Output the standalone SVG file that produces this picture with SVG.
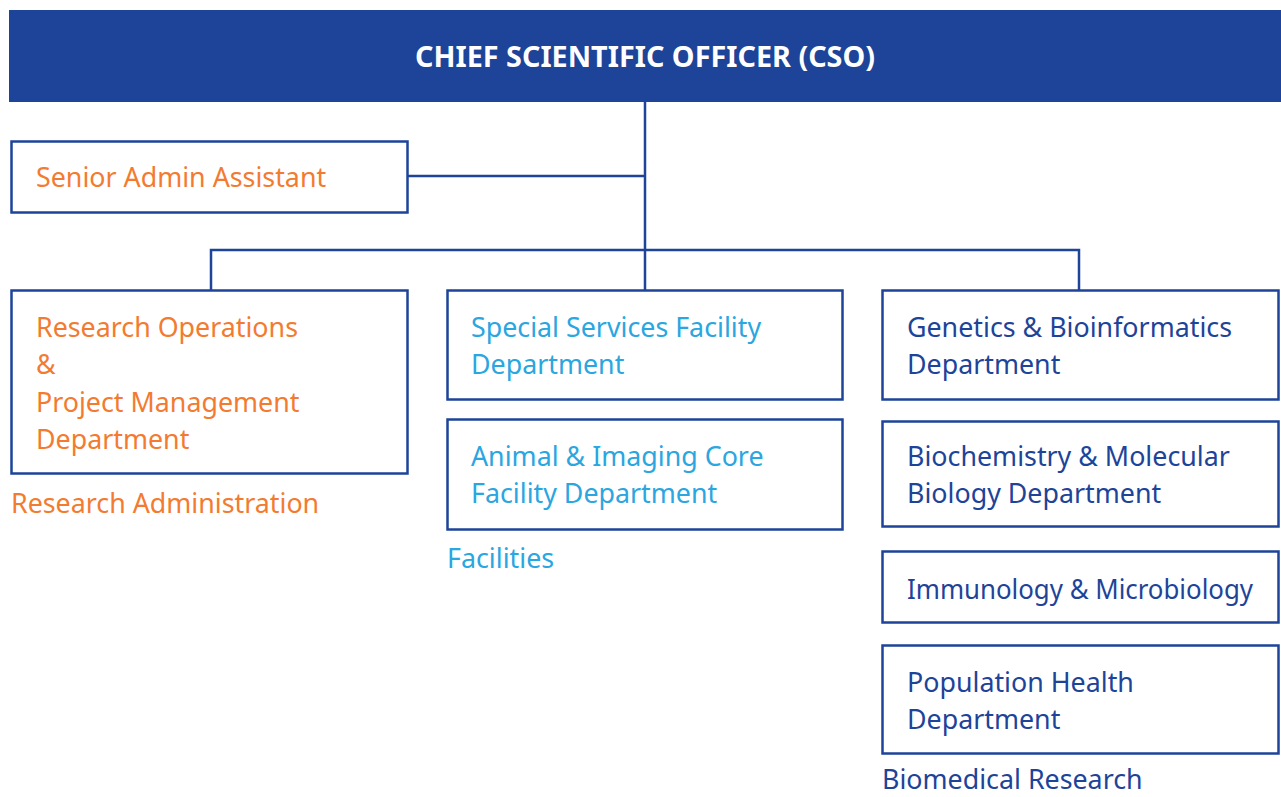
<svg xmlns="http://www.w3.org/2000/svg" width="1281" height="797" viewBox="0 0 1281 797">
<style>
.box{fill:#fff;stroke:#1d4499;stroke-width:2.5}
.ln{fill:none;stroke:#1d4499;stroke-width:2.5}
text{font-family:"Noto Sans","Open Sans",sans-serif;font-size:26.8px}
.or{fill:#f37b2f}
.lb{fill:#2aa6e0}
.db{fill:#1d4499}
.hd{fill:#fff;font-weight:bold;font-size:28px}
</style>
<rect width="1281" height="797" fill="#fff"/>
<g id="connectors">
<path class="ln" d="M645 102V290M408 176H645M211 290V250H1079V290"/>
</g>
<g id="cso">
<rect x="9" y="10" width="1272" height="92" fill="#1d4499"/>
<text class="hd" x="645" y="67" text-anchor="middle" textLength="460" lengthAdjust="spacingAndGlyphs">CHIEF SCIENTIFIC OFFICER (CSO)</text>
</g>
<g id="senior-admin">
<rect class="box" x="11.5" y="141.5" width="396" height="71"/>
<text class="or" x="36" y="187">Senior Admin Assistant</text>
</g>
<g id="research-ops">
<rect class="box" x="11.5" y="290.5" width="396" height="183"/>
<text class="or" x="36" y="337">Research Operations</text>
<text class="or" x="36" y="374">&amp;</text>
<text class="or" x="36" y="412">Project Management</text>
<text class="or" x="36" y="449">Department</text>
</g>
<g id="research-admin-label"><text class="or" x="11" y="513">Research Administration</text></g>
<g id="special-services">
<rect class="box" x="447.5" y="290.5" width="395" height="109"/>
<text class="lb" x="471" y="337">Special Services Facility</text>
<text class="lb" x="471" y="374">Department</text>
</g>
<g id="animal-imaging">
<rect class="box" x="447.5" y="419.5" width="395" height="110"/>
<text class="lb" x="471" y="466">Animal &amp; Imaging Core</text>
<text class="lb" x="471" y="503">Facility Department</text>
</g>
<g id="facilities-label"><text class="lb" x="447" y="568">Facilities</text></g>
<g id="genetics">
<rect class="box" x="882.5" y="290.5" width="396" height="109"/>
<text class="db" x="907" y="337">Genetics &amp; Bioinformatics</text>
<text class="db" x="907" y="374">Department</text>
</g>
<g id="biochem">
<rect class="box" x="882.5" y="421.5" width="396" height="105"/>
<text class="db" x="907" y="466">Biochemistry &amp; Molecular</text>
<text class="db" x="907" y="503">Biology Department</text>
</g>
<g id="immunology">
<rect class="box" x="882.5" y="551.5" width="396" height="71"/>
<text class="db" x="907" y="599" textLength="346" lengthAdjust="spacingAndGlyphs">Immunology &amp; Microbiology</text>
</g>
<g id="population">
<rect class="box" x="882.5" y="645.5" width="396" height="108"/>
<text class="db" x="907" y="692">Population Health</text>
<text class="db" x="907" y="729">Department</text>
</g>
<g id="biomedical-label"><text class="db" x="882" y="789">Biomedical Research</text></g>
</svg>
